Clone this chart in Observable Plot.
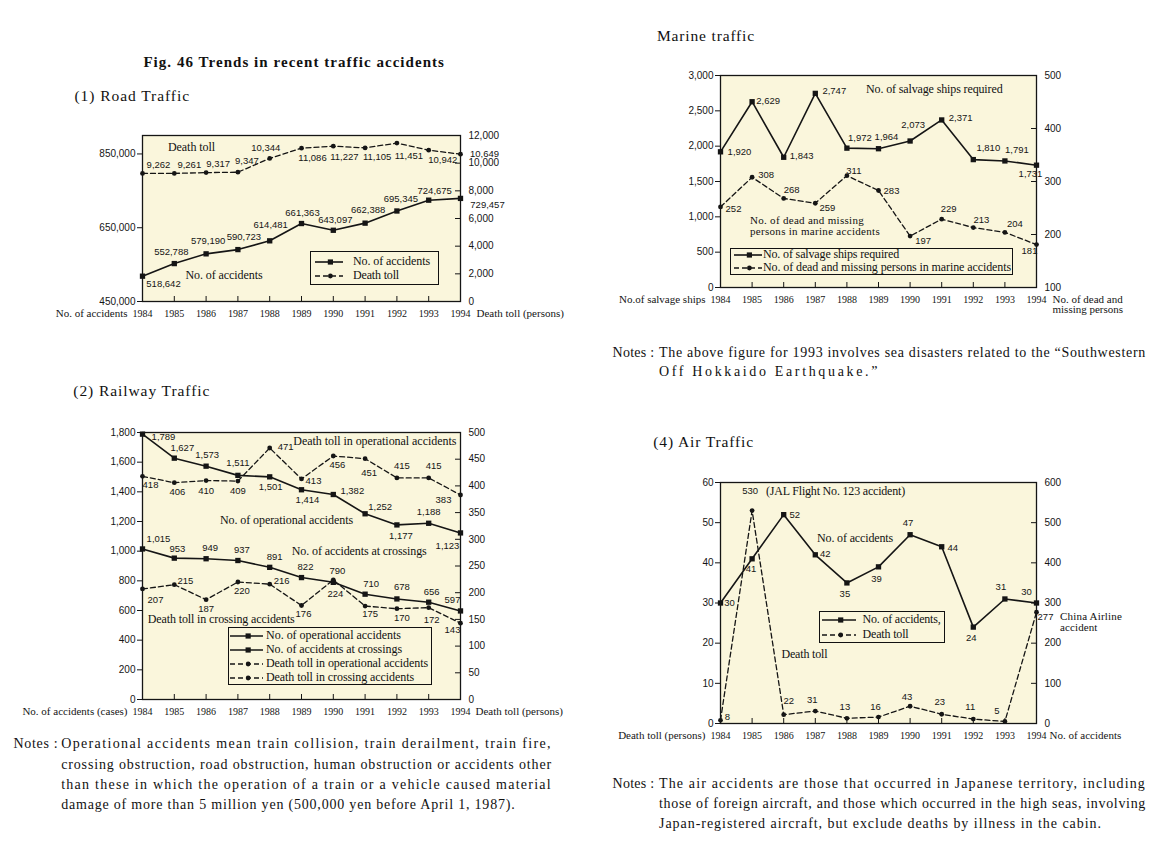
<!DOCTYPE html>
<html><head><meta charset="utf-8">
<script src="https://cdn.jsdelivr.net/npm/d3@7"></script>
<script src="https://cdn.jsdelivr.net/npm/@observablehq/plot@0.6"></script>
<style>
html,body{margin:0;padding:0;background:#fff;}
#root{position:relative;width:1167px;height:858px;overflow:hidden;background:#fff;font-family:'Liberation Serif','Times New Roman',serif;color:#111;}
.t{position:absolute;white-space:nowrap;}
.p{position:absolute;}
.lg{position:absolute;border:1.3px solid #111;box-sizing:border-box;}
</style></head>
<body><div id="root"></div>
<script>
// ---------- data ----------
const years = [1984,1985,1986,1987,1988,1989,1990,1991,1992,1993,1994];

// (1) Road traffic
const roadAccidents = [518642,552788,579190,590723,614481,661363,643097,662388,695345,724675,729457];
const roadDeaths = [9262,9261,9317,9347,10344,11086,11227,11105,11451,10942,10649];
const roadLeftTicks = [450000,650000,850000];
const roadRightTicks = [0,2000,4000,6000,8000,10000,12000];

// (2) Railway traffic
const railOperational = [1789,1627,1573,1511,1501,1414,1382,1252,1177,1188,1123];
const railCrossings = [1015,953,949,937,891,822,790,710,678,656,597];
const railDeathsOperational = [418,406,410,409,471,413,456,451,415,415,383];
const railDeathsCrossing = [207,215,187,220,216,176,224,175,170,172,143];
const railLeftTicks = [0,200,400,600,800,1000,1200,1400,1600,1800];
const railRightTicks = [0,50,100,150,200,250,300,350,400,450,500];

// Marine traffic
const marineSalvageShips = [1920,2629,1843,2747,1972,1964,2073,2371,1810,1791,1731];
const marineDeadMissing = [252,308,268,259,311,283,197,229,213,204,181];
const marineLeftTicks = [0,500,1000,1500,2000,2500,3000];
const marineRightTicks = [100,200,300,400,500];

// (4) Air traffic
const airAccidents = [30,41,52,42,35,39,47,44,24,31,30];
const airDeaths = [8,530,22,31,13,16,43,23,11,5,277];
const airLeftTicks = [0,10,20,30,40,50,60];
const airRightTicks = [0,100,200,300,400,500,600];

// ---------- label placement (offsets in px, kept apart from the data) ----------
const roadAccOff = [[21,8],[-3,-12],[2,-13],[6,-13],[1,-16],[1,-11],[2,-10],[3,-13],[4,-12],[6,-9],[27,7]];
const roadDeathOff = [[16,-8],[15,-8],[12,-9],[9,-11],[-4,-10],[11,10],[11,11],[12,9],[12,13],[14,10],[24,0]];
const railOpOff = [[21,3],[8,-10],[1,-11],[0,-12],[1,10],[6,10],[19,-4],[15,-7],[4,11],[0,-11],[-13,13]];
const railCrOff = [[16,-10],[3,-9],[4,-11],[4,-11],[5,-10],[4,-11],[4,-11],[6,-10],[5,-12],[3,-10],[-8,-11]];
const railDOpOff = [[8,9],[3,9],[0,10],[0,10],[16,-1],[12,2],[4,9],[4,14],[5,-12],[5,-12],[-17,5]];
const railDCrOff = [[13,11],[11,-4],[0,9],[4,9],[12,-3],[2,8],[2,14],[5,8],[5,9],[3,12],[-8,7]];
const marineShipOff = [[19,0],[16,-1],[18,-1],[19,-2],[13,-10],[8,-12],[3,-16],[19,-2],[15,-12],[12,-11],[-6,9]];
const marineDeadOff = [[13,2],[14,-2],[8,-9],[12,5],[7,-5],[13,0],[13,5],[7,-10],[8,-8],[10,-8],[-7,6]];
const airAccOff = [[9,0],[-1,10],[11,0],[10,-1],[-2,11],[-2,12],[-2,-12],[11,1],[-2,11],[-4,-12],[-10,-11]];
const airDeathOff = [[7,-3],[-2,-20],[5,-14],[-3,-11],[-2,-11],[-3,-10],[-3,-9],[-2,-12],[-3,-12],[-8,-11],[9,5]];

// ---------- styling ----------
const INK = "#151515";
const CREAM = "#faf6dc";
const SERIF = "'Liberation Serif','Times New Roman',serif";
const SANS = "'Liberation Sans',Arial,sans-serif";
const fmt = d3.format(",");
const root = document.getElementById("root");

function seriesMarks(vals, off, dashed) {
  const marks = [
    Plot.line(years, {x: d => d, y: (d, i) => vals[i], stroke: INK, strokeWidth: dashed ? 1.3 : 1.6, strokeDasharray: dashed ? "5,3" : null}),
    Plot.dot(years, {x: d => d, y: (d, i) => vals[i], symbol: dashed ? "circle" : "square", fill: INK, r: dashed ? 2.4 : 3})
  ];
  years.forEach((yr, i) => {
    marks.push(Plot.text([i], {x: j => years[j], y: j => vals[j], text: j => fmt(vals[j]),
      dx: off[i][0], dy: off[i][1], fontFamily: SANS, fontSize: 9.5, fill: INK}));
  });
  return marks;
}

function panel(cfg) {
  const ML = 140, MR = 120, MT = 20, MB = 30;
  const f = cfg.frame;
  const iw = f.x1 - f.x0, ih = f.y1 - f.y0;
  const W = ML + iw + MR, H = MT + ih + MB;
  const common = {width: W, height: H, marginLeft: ML, marginRight: MR, marginTop: MT, marginBottom: MB,
    style: {background: "transparent", fontFamily: SANS, fontSize: "10px", color: INK, overflow: "visible"}};
  const base = Plot.plot({
    ...common,
    x: {domain: [1984, 1994]},
    y: {domain: cfg.leftDomain},
    marks: [
      Plot.frame({fill: CREAM, stroke: null}),
      Plot.ruleX(years, {x: d => d, insetTop: ih - 5, stroke: INK}),
      Plot.axisX({ticks: years, tickFormat: d => String(d), tickSize: 0, tickPadding: 8, label: null, fontFamily: SERIF, fontSize: 10}),
      Plot.axisY({anchor: "left", ticks: cfg.leftTicks, tickFormat: fmt, tickSize: 5, tickPadding: 2, label: null, fontFamily: SANS, fontSize: 10}),
      Plot.text([cfg.bottomLeft], {text: d => d, frameAnchor: "bottom-left", textAnchor: "end", lineAnchor: "top", dx: -15, dy: 8, fontFamily: SERIF, fontSize: 11, fill: INK}),
      Plot.text([cfg.bottomRight], {text: d => d, frameAnchor: "bottom-right", textAnchor: "start", lineAnchor: "top", dx: cfg.brDx, dy: 8, lineHeight: 0.95, fontFamily: SERIF, fontSize: 11, fill: INK}),
      ...cfg.leftSeries.flatMap(s => seriesMarks(s.values, s.off, s.dashed)),
      Plot.frame({stroke: INK, strokeWidth: 1.3})
    ]
  });
  const over = Plot.plot({
    ...common,
    x: {domain: [1984, 1994], axis: null},
    y: {domain: cfg.rightDomain},
    marks: [
      Plot.ruleY(cfg.rightTicks, {y: d => d, insetLeft: iw - 5, stroke: INK}),
      Plot.axisY({anchor: "right", ticks: cfg.rightTicks, tickFormat: fmt, tickSize: 0, tickPadding: 8, label: null, fontFamily: SANS, fontSize: 10}),
      ...cfg.rightSeries.flatMap(s => seriesMarks(s.values, s.off, s.dashed))
    ]
  });
  for (const svg of [base, over]) {
    const d = document.createElement("div");
    d.className = "p";
    d.style.left = (f.x0 - ML) + "px";
    d.style.top = (f.y0 - MT) + "px";
    d.appendChild(svg);
    root.appendChild(d);
  }
}

function put(str, x, y, size, w, bold) {
  const d = document.createElement("div");
  d.className = "t";
  d.textContent = str;
  d.style.fontSize = size + "px";
  d.style.lineHeight = size + "px";
  d.style.left = x + "px";
  d.style.top = (y - size * 0.57) + "px";
  if (bold) d.style.fontWeight = "bold";
  root.appendChild(d);
  if (w) {
    const nat = d.getBoundingClientRect().width;
    d.style.letterSpacing = ((w - nat) / str.length) + "px";
  }
  return d;
}

function legend(box, rows, sx0, sx1, tx, size, items) {
  const b = document.createElement("div");
  b.className = "lg";
  b.style.left = box.x + "px"; b.style.top = box.y + "px";
  b.style.width = box.w + "px"; b.style.height = box.h + "px";
  root.appendChild(b);
  const ns = "http://www.w3.org/2000/svg";
  items.forEach((it, i) => {
    const svg = document.createElementNS(ns, "svg");
    const sw = sx1 - sx0;
    svg.setAttribute("width", sw); svg.setAttribute("height", 10);
    svg.style.position = "absolute";
    svg.style.left = sx0 + "px"; svg.style.top = (rows[i] - 5) + "px";
    const ln = document.createElementNS(ns, "line");
    ln.setAttribute("x1", 0); ln.setAttribute("x2", sw); ln.setAttribute("y1", 5); ln.setAttribute("y2", 5);
    ln.setAttribute("stroke", INK); ln.setAttribute("stroke-width", it.dashed ? 1.3 : 1.6);
    if (it.dashed) ln.setAttribute("stroke-dasharray", "5,3");
    svg.appendChild(ln);
    let mk;
    if (it.dashed) {
      mk = document.createElementNS(ns, "circle");
      mk.setAttribute("cx", sw * 0.55); mk.setAttribute("cy", 5); mk.setAttribute("r", 2.4);
    } else {
      mk = document.createElementNS(ns, "rect");
      mk.setAttribute("x", sw * 0.55 - 2.6); mk.setAttribute("y", 2.4); mk.setAttribute("width", 5.2); mk.setAttribute("height", 5.2);
    }
    mk.setAttribute("fill", INK);
    svg.appendChild(mk);
    root.appendChild(svg);
    put(it.label, tx, rows[i], size, it.w);
  });
}

// ---------- panels ----------
panel({
  frame: {x0: 142, x1: 460, y0: 135, y1: 301},
  leftDomain: [450000, 900000], rightDomain: [0, 12000],
  leftTicks: roadLeftTicks, rightTicks: roadRightTicks,
  leftSeries: [{values: roadAccidents, off: roadAccOff, dashed: false}],
  rightSeries: [{values: roadDeaths, off: roadDeathOff, dashed: true}],
  bottomLeft: "No. of accidents", bottomRight: "Death toll (persons)", brDx: 16
});
panel({
  frame: {x0: 142, x1: 460, y0: 432, y1: 699},
  leftDomain: [0, 1800], rightDomain: [0, 500],
  leftTicks: railLeftTicks, rightTicks: railRightTicks,
  leftSeries: [{values: railOperational, off: railOpOff, dashed: false}, {values: railCrossings, off: railCrOff, dashed: false}],
  rightSeries: [{values: railDeathsOperational, off: railDOpOff, dashed: true}, {values: railDeathsCrossing, off: railDCrOff, dashed: true}],
  bottomLeft: "No. of accidents (cases)", bottomRight: "Death toll (persons)", brDx: 15
});
panel({
  frame: {x0: 720, x1: 1036, y0: 75, y1: 287},
  leftDomain: [0, 3000], rightDomain: [100, 500],
  leftTicks: marineLeftTicks, rightTicks: marineRightTicks,
  leftSeries: [{values: marineSalvageShips, off: marineShipOff, dashed: false}],
  rightSeries: [{values: marineDeadMissing, off: marineDeadOff, dashed: true}],
  bottomLeft: "No.of salvage ships", bottomRight: "No. of dead and\nmissing persons", brDx: 16
});
panel({
  frame: {x0: 720, x1: 1036, y0: 482, y1: 723},
  leftDomain: [0, 60], rightDomain: [0, 600],
  leftTicks: airLeftTicks, rightTicks: airRightTicks,
  leftSeries: [{values: airAccidents, off: airAccOff, dashed: false}],
  rightSeries: [{values: airDeaths, off: airDeathOff, dashed: true}],
  bottomLeft: "Death toll (persons)", bottomRight: "No. of accidents", brDx: 13
});

// ---------- titles ----------
put("Fig. 46 Trends in recent traffic accidents", 143.4, 63.3, 15, 301.6, true);
put("(1) Road Traffic", 74.5, 96.7, 15.5, 115.5);
put("(2) Railway Traffic", 73.3, 391.7, 15.5, 137);
put("Marine traffic", 657, 36.7, 15.5, 98);
put("(4) Air Traffic", 653.3, 442.7, 15.5, 100.7);

// ---------- annotations ----------
put("Death toll", 168, 148.3, 12, 47);
put("No. of accidents", 185.5, 275.7, 12, 77);
put("Death toll in operational accidents", 293.3, 441.7, 12, 163);
put("No. of operational accidents", 220, 520.7, 12, 133);
put("No. of accidents at crossings", 291.7, 551.7, 12, 135);
put("Death toll in crossing accidents", 147.7, 620, 12, 147);
put("No. of salvage ships required", 866, 90, 12, 136.5);
put("No. of dead and missing", 750, 221, 11, 114);
put("persons in marine accidents", 750, 232.3, 11, 130);
put("(JAL Flight No. 123 accident)", 766, 491.7, 12, 139);
put("No. of accidents", 817, 539.3, 12, 76);
put("Death toll", 781.4, 655, 12, 46);
put("China Airline", 1060, 617, 11, 62);
put("accident", 1060, 628.5, 11, 37.5);

// ---------- legends ----------
legend({x: 310, y: 251, w: 129, h: 34}, [262, 276], 315, 343, 353, 12, [
  {label: "No. of accidents", dashed: false, w: 77}, {label: "Death toll", dashed: true, w: 46}]);
legend({x: 228, y: 627, w: 204, h: 58}, [636, 650, 664, 678], 230, 263, 266, 12, [
  {label: "No. of operational accidents", dashed: false, w: 135},
  {label: "No. of accidents at crossings", dashed: false, w: 136},
  {label: "Death toll in operational accidents", dashed: true, w: 162},
  {label: "Death toll in crossing accidents", dashed: true, w: 148}]);
legend({x: 730, y: 248, w: 283, h: 27}, [254.5, 267.5], 734, 762, 763, 12, [
  {label: "No. of salvage ships required", dashed: false, w: 136},
  {label: "No. of dead and missing persons in marine accidents", dashed: true, w: 248}]);
legend({x: 819, y: 611, w: 126, h: 32}, [619.5, 635], 822, 856, 862.5, 12, [
  {label: "No. of accidents,", dashed: false, w: 78}, {label: "Death toll", dashed: true, w: 46}]);

// ---------- notes ----------
const NOTE = 14;
put("Notes :", 13.4, 745, NOTE, 45);
put("Operational accidents mean train collision, train derailment, train fire,", 61.2, 745, NOTE, 490.8);
put("crossing obstruction, road obstruction, human obstruction or accidents other", 61.2, 765.5, NOTE, 490.8);
put("than these in which the operation of a train or a vehicle caused material", 61.2, 786, NOTE, 490.8);
put("damage of more than 5 million yen (500,000 yen before April 1, 1987).", 61.2, 806, NOTE, 454.3);

put("Notes :", 612.5, 354, NOTE, 42);
put("The above figure for 1993 involves sea disasters related to the \u201cSouthwestern", 659, 354, NOTE, 487);
put("Off Hokkaido Earthquake.\u201d", 659, 373, NOTE, 221);

put("Notes :", 612.5, 785, NOTE, 42);
put("The air accidents are those that occurred in Japanese territory, including", 659, 785, NOTE, 487);
put("those of foreign aircraft, and those which occurred in the high seas, involving", 659, 805, NOTE, 487);
put("Japan-registered aircraft, but exclude deaths by illness in the cabin.", 659, 825, NOTE, 443);
</script>
</body></html>
